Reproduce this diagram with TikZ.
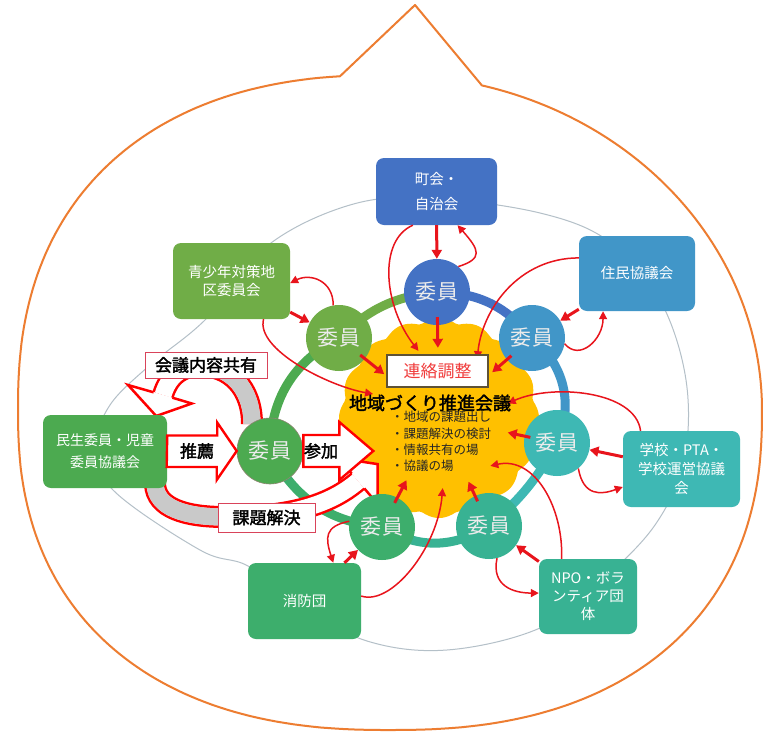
\documentclass[tikz,border=0pt]{standalone}
\usepackage{fontspec}
\setmainfont{Noto Sans CJK JP}[AutoFakeBold=2]
\usetikzlibrary{arrows.meta,backgrounds}

\definecolor{bubbleorange}{HTML}{ED7D31}
\definecolor{ringgrey}{HTML}{B4C0C8}
\definecolor{hubyellow}{HTML}{FFC000}
\definecolor{ctown}{HTML}{4472C4}
\definecolor{cresid}{HTML}{4196C8}
\definecolor{cschool}{HTML}{3EB8B4}
\definecolor{cnpo}{HTML}{38B293}
\definecolor{cfire}{HTML}{3DAE6C}
\definecolor{cminsei}{HTML}{4CAA50}
\definecolor{cyouth}{HTML}{70AD47}
\definecolor{arrred}{HTML}{E8141C}
\definecolor{tagred}{HTML}{D9435A}
\definecolor{bandgrey}{HTML}{C9C9C9}
\definecolor{framebrown}{HTML}{5E5236}
\definecolor{liaisonred}{HTML}{F03C3C}

\begin{document}
\begin{tikzpicture}[x=1pt,y=-1pt,
  orgbox/.style={rectangle,rounded corners=8pt,inner sep=2pt,text=white,align=center,
    font=\fontsize{14.5}{18}\selectfont},
  member/.style={circle,minimum size=66pt,inner sep=0pt,text=white!92!black,
    font=\fontsize{21}{21}\selectfont},
  tagbox/.style={draw=tagred,line width=0.8pt,fill=white,inner sep=0pt,
    font=\bfseries\fontsize{17}{17}\selectfont},
  ringseg/.style={line width=9pt},
  gring/.style={draw=ringgrey,line width=1pt},
  band/.style={draw=red,double=white,double distance=17pt,line width=2.5pt},
  bandedge/.style={draw=red,line width=2.5pt,line join=miter},
  blockarr/.style={draw=red,line width=2.4pt,fill=white,line join=miter},
  redarr/.style={draw=arrred,line width=1.5pt,-{Triangle[length=8pt,width=8pt]}},
  fatarr/.style={draw=arrred,line width=3pt,-{Triangle[length=9pt,width=10pt]}}
]
\useasboundingbox (0,0) rectangle (765,731);

% organisations
\node[orgbox,fill=ctown,minimum width=121pt,minimum height=67pt,font=\fontsize{14.5}{25}\selectfont] (town) at (436.5,191.5) {町会・\\自治会};
\node[orgbox,fill=cresid,minimum width=116pt,minimum height=75pt] (resid) at (637,273.5) {住民協議会};
\node[orgbox,fill=cschool,minimum width=117pt,minimum height=76pt,font=\fontsize{14.5}{19}\selectfont] (school) at (681.5,469) {学校・PTA・\\学校運営協議\\会};
\node[orgbox,fill=cnpo,minimum width=98pt,minimum height=75pt] (npo) at (588,596.5) {NPO・ボラ\\ンティア団\\体};
\node[orgbox,fill=cfire,minimum width=113pt,minimum height=76pt] (fire) at (304.5,601) {消防団};
\node[orgbox,fill=cminsei,minimum width=124pt,minimum height=73pt,font=\fontsize{14}{22}\selectfont] (minsei) at (105,451.5) {民生委員・児童\\委員協議会};
\node[orgbox,fill=cyouth,minimum width=117pt,minimum height=76pt] (youth) at (231.5,281) {青少年対策地\\区委員会};

% members on the ring
\node[member,fill=ctown]   (mtop) at (437,292) {委\kern1pt員};
\node[member,fill=cresid]  (mur)  at (532,338) {委\kern1pt員};
\node[member,fill=cschool] (mr)   at (557,443) {委\kern1pt員};
\node[member,fill=cnpo]    (mbr)  at (489,526) {委\kern1pt員};
\node[member,fill=cfire]   (mb)   at (382,527) {委\kern1pt員};
\node[member,fill=cminsei,draw=framebrown!70,line width=0.6pt] (ml) at (270,451) {委\kern1pt員};
\node[member,fill=cyouth]  (mul)  at (339,338) {委\kern1pt員};
\node[circle,minimum size=140pt,inner sep=0pt] (core) at (439,418) {};

\begin{scope}[on background layer]
  \fill[white] (0,0) rectangle (765,731);
  % speech bubble
  \draw[bubbleorange,line width=2pt,line join=round]
    plot[domain=-75.7:264.6,samples=260]
      ({390+372*sign(cos(\x))*pow(abs(cos(\x)),0.85+0.15*(cos(\x)>0)*(sin(\x)<0))},
       {410+(327.5-7.5*sign(sin(\x)))*sign(sin(\x))*pow(abs(sin(\x)),0.85+0.15*(cos(\x)>0)*(sin(\x)<0))})
    -- (415,5) -- cycle;
  % outer grey ring
  \draw[gring] plot[smooth cycle,tension=0.6] coordinates {(430,198) (540,213) (610,242)
    (660,300) (686,380) (684,460) (655,525) (600,582) (540,628) (447,650) (367,641)
    (300,605) (248,566) (200,550) (113,490) (97,445) (110,405) (150,365) (207,318)
    (267,246) (350,205)};
  % member ring
  \draw[ringseg,ctown]   (mtop.center) to[bend left=25] (mur.center);
  \draw[ringseg,cresid]  (mur.center)  to[bend left=37] (mr.center);
  \draw[ringseg,cschool] (mr.center)   to[bend left=10] (mbr.center);
  \draw[ringseg,cnpo]    (mbr.center)  to[bend left=32] (mb.center);
  \draw[ringseg,cfire]   (mb.center)   to[bend left=29] (ml.center);
  \draw[ringseg,cminsei] (ml.center)   to[bend left=31] (mul.center);
  \draw[ringseg,cyouth]  (mul.center)  to[bend left=19] (mtop.center);
  % council
  \fill[hubyellow] plot[domain=0:360,samples=181]
    ({439+(95+5*abs(cos(8*\x)))*cos(\x)},{418+(95+5*abs(cos(8*\x)))*sin(\x)}) -- cycle;
  % curved arrow: sharing
  \draw[band] (252,424) .. controls (252,388) and (230,366) .. (200,366)
    .. controls (180,366) and (168,378) .. (163,395);
  \draw[bandgrey,line width=17pt] (252,424) .. controls (252,388) and (230,366) .. (200,366);
  \fill[white] (172.4,397.7) -- (191.8,403.5) -- (156.2,416) -- (128,385) -- (153.6,392.3) -- cycle;
  \draw[bandedge] (172.4,397.7) -- (191.8,403.5) -- (156.2,416) -- (128,385) -- (153.6,392.3);
  % curved arrow: solving
  \draw[band] (155,484) .. controls (156,508) and (185,517) .. (225,517)
    .. controls (290,517) and (330,505) .. (358,481);
  \draw[bandgrey,line width=17pt] (155,484) .. controls (156,508) and (185,517) .. (225,517);
  \fill[white] (364.3,488.4) -- (377.5,503.8) -- (377.7,464.1) -- (338.5,458.2) -- (351.7,473.6) -- cycle;
  \draw[bandedge] (364.3,488.4) -- (377.5,503.8) -- (377.7,464.1) -- (338.5,458.2) -- (351.7,473.6);
\end{scope}

% recommend / join
\draw[blockarr] (minsei.east) ++(0,-16) -- ++(50,0) -- ++(0,-13) -- (ml.west) -- ++(-20,29)
  -- ++(0,-13) -- ++(-50,0) -- cycle;
\draw[blockarr] (ml.east) ++(0,-16) -- ++(36,0) -- ++(0,-13) -- ++(34,29) -- ++(-34,29)
  -- ++(0,-13) -- ++(-36,0) -- cycle;
\node[font=\bfseries\fontsize{17}{17}\selectfont] (suisen) at (197,451) {推薦};
\node[font=\bfseries\fontsize{17}{17}\selectfont] (sanka) at (321,451) {参加};

% red links
\draw[fatarr] (town) -- (mtop);
\draw[fatarr,shorten <=-8pt] (mtop) -- (core);
\draw[redarr] (mtop.50) .. controls +(25,-8) and +(22,25) .. (town.-58);
\draw[redarr] (town.-125) .. controls +(-35,15) and +(-35,-45) .. (core.107);

\draw[fatarr] (resid) -- (mur);
\draw[fatarr,shorten <=-6pt] (mur) -- (core);
\draw[redarr] (mur.-10) .. controls +(15,18) and +(0,28) .. (resid.-132);
\draw[redarr] (resid.165) .. controls +(-60,0) and +(5,-50) .. (core.57);

\draw[fatarr] (school) -- (mr);
\draw[fatarr,shorten <=-6pt] (mr) -- (core);
\draw[redarr] (mr.-50) .. controls +(5,28) and +(-22,8) .. (school.-163);
\draw[redarr] (school.137) .. controls +(-5,-40) and +(45,-20) .. (core.12);

\draw[fatarr] (npo) -- (mbr);
\draw[fatarr,shorten <=-6pt] (mbr) -- (core);
\draw[redarr] (mbr.-76) .. controls +(-6,28) and +(-25,0) .. (npo.176);
\draw[redarr] (npo.125) .. controls +(2,-50) and +(45,-10) .. (core.-43);

\draw[fatarr] (fire) -- (mb);
\draw[fatarr,shorten <=-6pt] (mb) -- (core);
\draw[redarr] (mb.170) .. controls +(-25,5) and +(-8,-25) .. (fire.53);
\draw[redarr] (fire.5) .. controls +(30,10) and +(-5,60) .. (core.-87);

\draw[fatarr] (youth) -- (mul);
\draw[fatarr,shorten <=-6pt] (mul) -- (core);
\draw[redarr] (mul.100) .. controls +(0,-25) and +(20,-10) .. (youth.-2);
\draw[redarr] (youth.-50) .. controls +(-8,30) and +(-45,-8) .. (core.160);

% council texts
\node[draw=framebrown,line width=1.2pt,fill=white,minimum width=101pt,minimum height=32pt,
  inner sep=0pt,text=liaisonred,font=\fontsize{17}{17}\selectfont] (renraku) at (437.5,371) {連絡調整};
\node[font=\bfseries\fontsize{18}{18}\selectfont,inner sep=0pt] (council) at (430,403) {地域づくり推進会議};
\node[anchor=north west,align=left,inner sep=0pt,text=black!85,
  font=\fontsize{12.5}{16.3}\selectfont] (duties) at (391,411)
  {・地域の課題出し\\・課題解決の検討\\・情報共有の場\\・協議の場};

% labels on the curved arrows
\node[tagbox,minimum width=122pt,minimum height=26pt] (kaigi) at (206,365) {会議内容共有};
\node[tagbox,minimum width=97pt,minimum height=29pt] (kadai) at (266.5,517.5) {課題解決};
\end{tikzpicture}
\end{document}
